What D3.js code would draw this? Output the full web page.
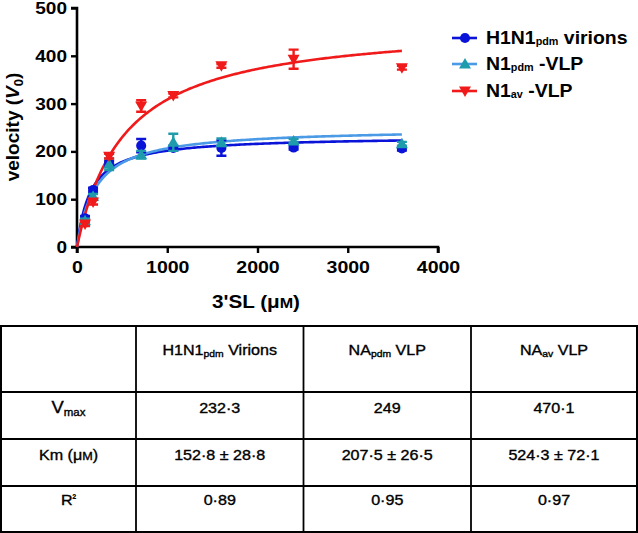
<!DOCTYPE html>
<html>
<head>
<meta charset="utf-8">
<script src="https://cdn.jsdelivr.net/npm/d3@7"></script>
<style>
  body { margin: 0; background: #fff; }
  svg { display: block; font-family: "Liberation Sans", Arial, sans-serif; }
  .sx { transform-box: fill-box; transform-origin: center; transform: scaleX(1.15); }
  .sxr { transform-box: fill-box; transform-origin: right center; transform: scaleX(1.12); }
  .sxl { transform-box: fill-box; transform-origin: left center; transform: scaleX(1.08); }
</style>
</head>
<body>
<svg id="chart" width="638" height="533"></svg>
<script>
// ---------------- data ----------------
const conc = [89, 178, 356, 711, 1067, 1600, 2400, 3600];
const seriesNames = ["H1N1pdm virions", "N1pdm-VLP", "N1av-VLP"];
const h1n1Vals = [60, 119, 175, 212, 207, 207, 208, 206];
const h1n1Err  = [5, 5, 5, 14, 5, 16, 4, 4];
const n1pdmVals = [55, 106, 173, 193, 219, 219, 222, 216];
const n1pdmErr  = [4, 5, 12, 8, 18, 8, 4, 4];
const n1avVals = [48, 94, 190, 295, 317, 379, 393, 375];
const n1avErr  = [4, 5, 5, 12, 4, 4, 20, 4];
const xTicks = [0, 1000, 2000, 3000, 4000];
const yTicks = [0, 100, 200, 300, 400, 500];
// fit parameters (also shown in the table)
const vmaxFit = [232.3, 249, 470.1];
const kmFit = [152.8, 207.5, 524.3];
// table text
const colHeads = [["H1N1", "pdm", " Virions"], ["NA", "pdm", " VLP"], ["NA", "av", " VLP"]];
const rowHeads = [["V", "max", ""], ["Km (μ", "", "M)"], ["R", "²", ""]];
const vmaxText = ["232·3", "249", "470·1"];
const kmText = ["152·8 ± 28·8", "207·5 ± 26·5", "524·3 ± 72·1"];
const r2Text = ["0·89", "0·95", "0·97"];

// ---------------- drawing ----------------
const svg = d3.select("#chart");
const x = d3.scaleLinear().domain([0, 4000]).range([77, 438]);
const y = d3.scaleLinear().domain([0, 500]).range([247, 8]);

const series = [
  { name: seriesNames[0], vals: h1n1Vals, err: h1n1Err, line: "#0a14d8", mark: "#0a14d8", shape: "circle" },
  { name: seriesNames[1], vals: n1pdmVals, err: n1pdmErr, line: "#4a9ae6", mark: "#1f9cab", shape: "tri" },
  { name: seriesNames[2], vals: n1avVals, err: n1avErr, line: "#f01a1a", mark: "#f01a1a", shape: "itri" }
];

function markerPath(shape) {
  if (shape === "circle") return d3.symbol(d3.symbolCircle, 80)();
  if (shape === "tri") return "M0,-6L6,4.5L-6,4.5Z";
  return "M0,6L6,-4.5L-6,-4.5Z";
}

// axes
const xAxis = svg.append("g").attr("transform", "translate(0,247)")
  .call(d3.axisBottom(x).tickValues(xTicks).tickSize(6).tickPadding(6).tickFormat(d3.format("d")));
const yAxis = svg.append("g").attr("transform", "translate(77,0)")
  .call(d3.axisLeft(y).tickValues(yTicks).tickSize(6).tickPadding(4).tickFormat(d3.format("d")));
[xAxis, yAxis].forEach(g => {
  g.select(".domain").attr("stroke", "#000").attr("stroke-width", 2.6);
  g.selectAll(".tick line").attr("stroke", "#000").attr("stroke-width", 2.4);
  g.selectAll(".tick text").attr("fill", "#000").attr("font-size", 17).attr("font-weight", "bold")
    .attr("font-family", "'Liberation Sans', Arial, sans-serif");
});
xAxis.select(".domain").attr("d", `M${x(0)},6V0H${x(4000)}V6`);
yAxis.select(".domain").attr("d", `M-6,${y(500)}H0V${y(0)}H-6`);
xAxis.selectAll(".tick text").attr("class", "sx").attr("dy", "0.8em");
yAxis.selectAll(".tick text").attr("class", "sxr");

// curves
const curveX = d3.range(0, 3601, 20);
const lineGen = d3.line().x(d => x(d[0])).y(d => y(d[1]));
series.forEach((s, i) => {
  const pts = curveX.map(c => [c, vmaxFit[i] * c / (kmFit[i] + c)]);
  svg.append("path").attr("d", lineGen(pts)).attr("fill", "none")
    .attr("stroke", s.line).attr("stroke-width", 2.6);
});

// error bars and markers
series.forEach(s => {
  const g = svg.append("g");
  conc.forEach((c, j) => {
    const v = s.vals[j], e = s.err[j];
    const cx = x(c);
    g.append("path")
      .attr("d", `M${cx - 5},${y(v + e)}H${cx + 5}M${cx},${y(v + e)}V${y(v - e)}M${cx - 5},${y(v - e)}H${cx + 5}`)
      .attr("stroke", s.mark).attr("stroke-width", 2.4).attr("fill", "none");
    g.append("path").attr("d", markerPath(s.shape))
      .attr("transform", `translate(${cx},${y(v)})`).attr("fill", s.mark);
  });
});

// axis titles
const xt = svg.append("text").attr("x", 256).attr("y", 308).attr("text-anchor", "middle")
  .attr("font-size", 18).attr("font-weight", "bold").attr("class", "sx");
xt.append("tspan").text("3'SL (μ");
xt.append("tspan").attr("font-size", 14).text("M");
xt.append("tspan").text(")");

const yt = svg.append("text").attr("transform", "translate(19,127) rotate(-90)")
  .attr("text-anchor", "middle").attr("font-size", 19).attr("font-weight", "bold");
yt.append("tspan").text("velocity (");
yt.append("tspan").attr("font-style", "italic").text("V");
yt.append("tspan").attr("font-size", 13).attr("dy", 4).text("0");
yt.append("tspan").attr("dy", -4).text(")");

// legend
const legRows = [38, 64, 91];
const legParts = [["H1N1", "pdm", " virions"], ["N1", "pdm", " -VLP"], ["N1", "av", " -VLP"]];
series.forEach((s, i) => {
  const ly = legRows[i];
  svg.append("line").attr("x1", 452).attr("x2", 477).attr("y1", ly).attr("y2", ly)
    .attr("stroke", s.line).attr("stroke-width", 2.6);
  svg.append("path").attr("d", markerPath(s.shape)).attr("transform", `translate(465,${ly})`).attr("fill", s.mark);
  const t = svg.append("text").attr("x", 486).attr("y", ly + 6.5).attr("font-size", 18)
    .attr("font-weight", "bold").attr("class", "sxl");
  t.append("tspan").text(legParts[i][0]);
  t.append("tspan").attr("font-size", 10).attr("dy", 1).text(legParts[i][1]);
  t.append("tspan").attr("dy", -1).text(legParts[i][2]);
});

// table
const colX = [1, 136, 303.5, 471, 637];
const rowY = [326, 392, 439, 486, 532];
const tg = svg.append("g");
tg.append("rect").attr("x", colX[0]).attr("y", rowY[0]).attr("width", colX[4] - colX[0])
  .attr("height", rowY[4] - rowY[0]).attr("fill", "none").attr("stroke", "#000").attr("stroke-width", 2);
colX.slice(1, 4).forEach(cx => tg.append("line").attr("x1", cx).attr("x2", cx)
  .attr("y1", rowY[0]).attr("y2", rowY[4]).attr("stroke", "#000").attr("stroke-width", 1.8));
rowY.slice(1, 4).forEach(ry => tg.append("line").attr("x1", colX[0]).attr("x2", colX[4])
  .attr("y1", ry).attr("y2", ry).attr("stroke", "#000").attr("stroke-width", 1.8));

const baseY = [355, 413, 460, 505];
function styleCell(t) {
  return t.attr("font-size", 14).attr("class", "sx").attr("fill", "#000")
    .attr("stroke", "#000").attr("stroke-width", 0.35);
}
function cellText(cx, by, parts, subDy) {
  const t = styleCell(tg.append("text").attr("x", cx).attr("y", by).attr("text-anchor", "middle"));
  t.append("tspan").text(parts[0]);
  if (parts[1]) t.append("tspan").attr("font-size", 9).attr("dy", subDy).text(parts[1]);
  if (parts[2]) t.append("tspan").attr("dy", parts[1] ? -subDy : 0).text(parts[2]);
  return t;
}
const colMid = i => (colX[i] + colX[i + 1]) / 2;
colHeads.forEach((p, i) => cellText(colMid(i + 1), baseY[0], p, 2));
// row heads
{
  const t = styleCell(tg.append("text").attr("x", colMid(0)).attr("y", baseY[1]).attr("text-anchor", "middle"));
  t.append("tspan").attr("font-size", 16).text(rowHeads[0][0]);
  t.append("tspan").attr("font-size", 10).attr("dy", 3).text(rowHeads[0][1]);
}
{
  const t = styleCell(tg.append("text").attr("x", colMid(0)).attr("y", baseY[2]).attr("text-anchor", "middle"));
  t.append("tspan").text(rowHeads[1][0]);
  t.append("tspan").attr("font-size", 11).text(rowHeads[1][2].slice(0, 1));
  t.append("tspan").text(rowHeads[1][2].slice(1));
}
{
  const t = styleCell(tg.append("text").attr("x", colMid(0)).attr("y", baseY[3]).attr("text-anchor", "middle"));
  t.append("tspan").text(rowHeads[2][0]);
  t.append("tspan").attr("font-size", 9).attr("dy", -4).text(rowHeads[2][1]);
}
[vmaxText, kmText, r2Text].forEach((arr, r) => {
  arr.forEach((s, i) => cellText(colMid(i + 1), baseY[r + 1], [s, "", ""], 0));
});
</script>
</body>
</html>
